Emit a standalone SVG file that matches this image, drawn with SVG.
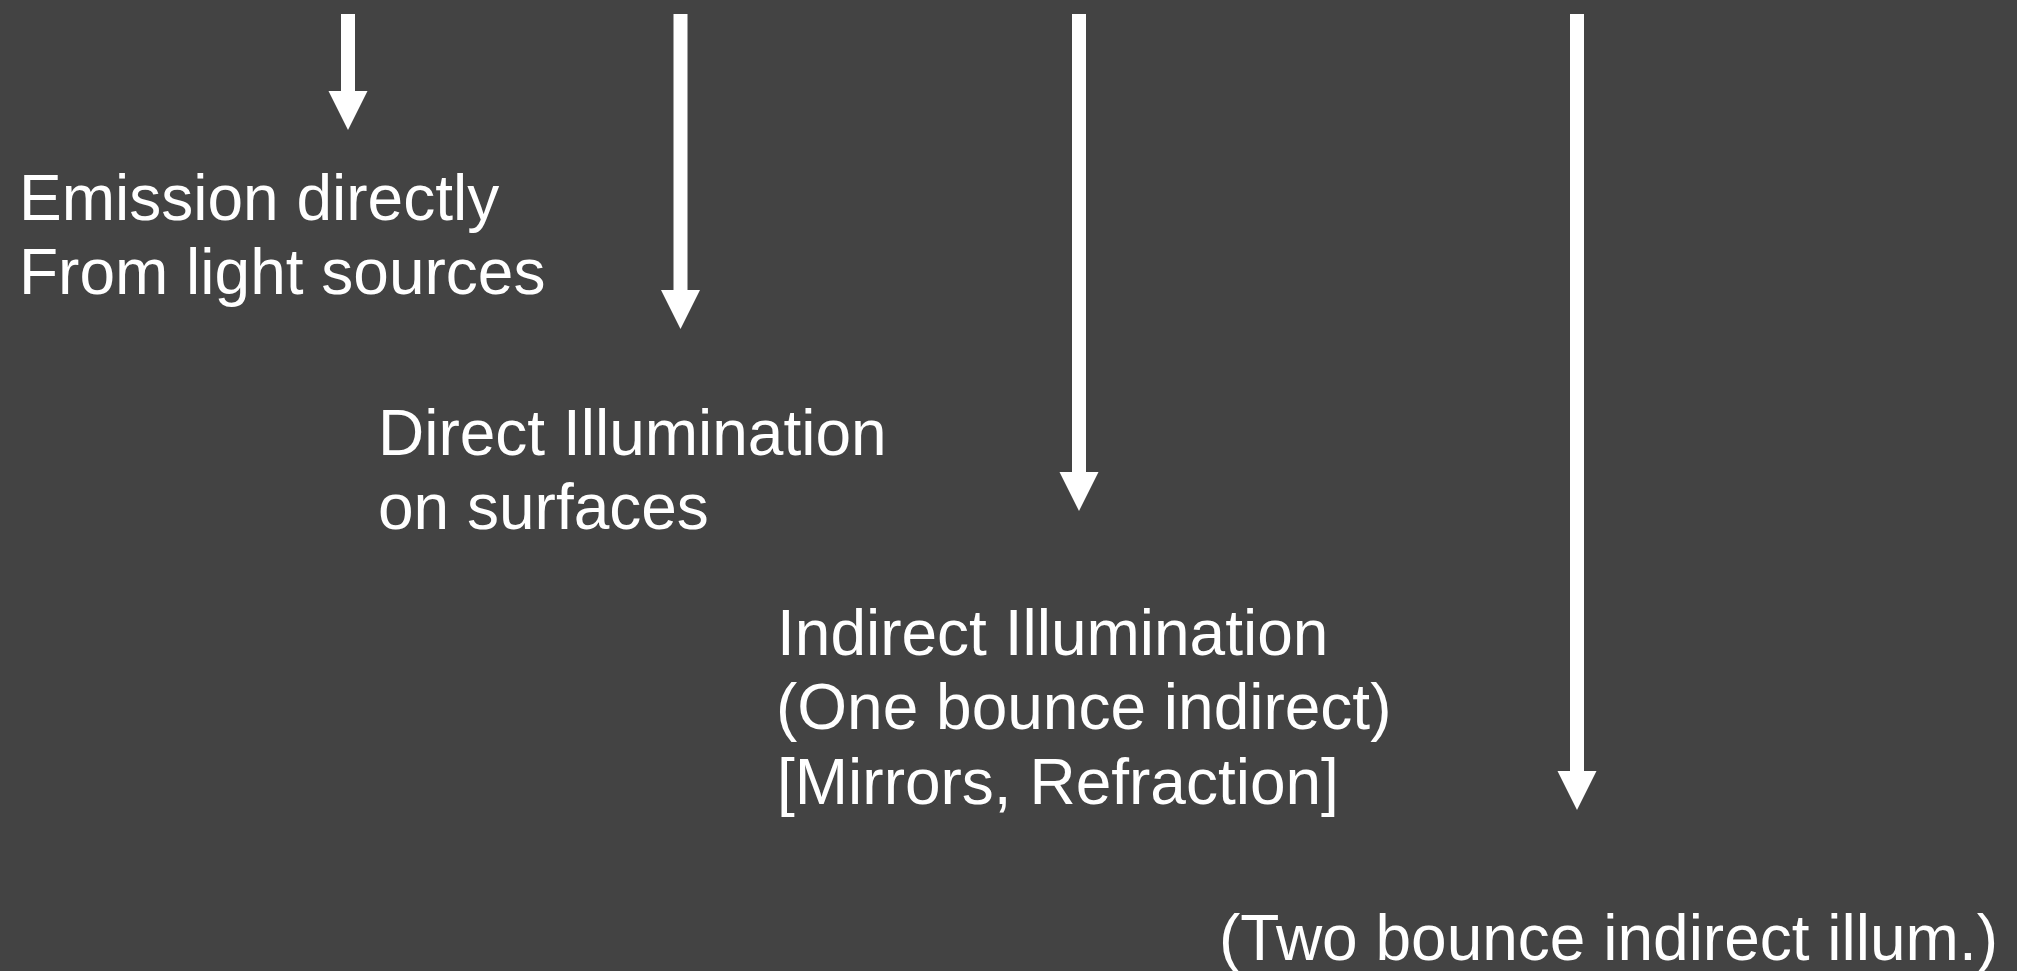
<svg xmlns="http://www.w3.org/2000/svg" width="2017" height="971" viewBox="0 0 2017 971">
  <style>
    .lbl { font-family: "Liberation Sans", Arial, sans-serif; font-size: 64px; fill: #ffffff; }
    .arrow { stroke: #ffffff; stroke-width: 14; fill: none; marker-end: url(#head); }
  </style>
  <defs>
    <marker id="head" markerUnits="userSpaceOnUse" markerWidth="40" markerHeight="40" refX="0" refY="19.5" orient="auto" viewBox="0 0 40 40">
      <path d="M0,0 L39,19.5 L0,39 z" fill="#ffffff"/>
    </marker>
  </defs>
  <rect x="0" y="0" width="2017" height="971" fill="#434343"/>
  <g id="connectors">
    <line class="arrow" x1="348" y1="14" x2="348" y2="91"/>
    <line class="arrow" x1="680.5" y1="14" x2="680.5" y2="290"/>
    <line class="arrow" x1="1079" y1="14" x2="1079" y2="472"/>
    <line class="arrow" x1="1577" y1="14" x2="1577" y2="771"/>
  </g>
  <g id="emission">
    <text class="lbl" x="19" y="220">Emission directly</text>
    <text class="lbl" x="19" y="294">From light sources</text>
  </g>
  <g id="direct">
    <text class="lbl" x="378" y="455">Direct Illumination</text>
    <text class="lbl" x="378" y="529">on surfaces</text>
  </g>
  <g id="indirect">
    <text class="lbl" x="777" y="655">Indirect Illumination</text>
    <text class="lbl" x="776" y="729">(One bounce indirect)</text>
    <text class="lbl" x="777" y="804">[Mirrors, Refraction]</text>
  </g>
  <g id="twobounce">
    <text class="lbl" x="1219" y="960">(Two bounce indirect illum.)</text>
  </g>
</svg>
